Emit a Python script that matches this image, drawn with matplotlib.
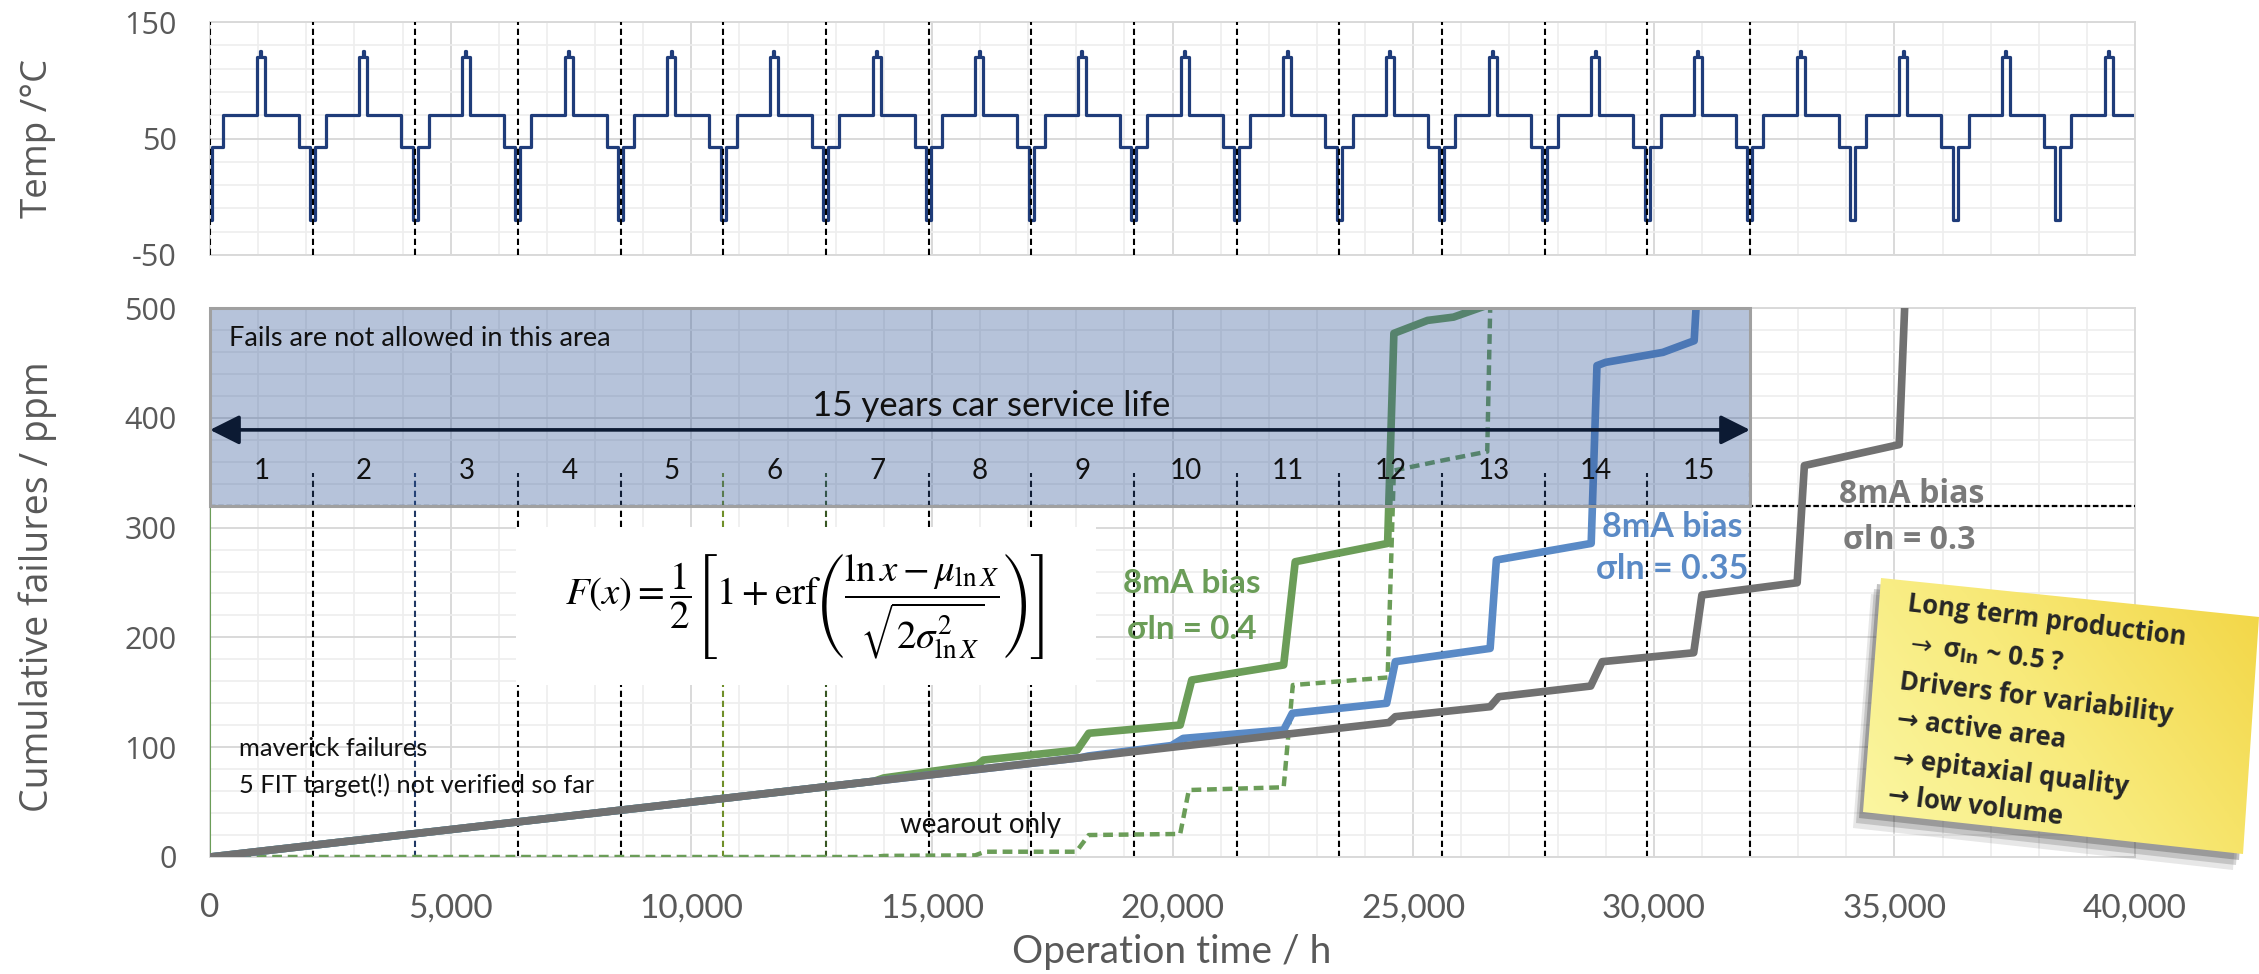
import numpy as np
import matplotlib
matplotlib.use("Agg")
import matplotlib.pyplot as plt
from matplotlib.patches import Rectangle, Polygon
from matplotlib.ticker import MultipleLocator, FixedLocator, FuncFormatter
from matplotlib.colors import LinearSegmentedColormap

plt.rcParams["axes.unicode_minus"] = False

# ---------------- data ----------------
HOURS_PER_YEAR = 32000 / 15          # 15 years car service life = 32,000 h
SERVICE_YEARS = 15
year_labels = [str(i) for i in range(1, SERVICE_YEARS + 1)]

# yearly temperature mission profile: phase start inside one year [h] and temperature [°C]
profile_start_h = [0, 50, 280, 970, 1040, 1060, 1135, 1845, 2080]
profile_temp_c = [-20, 43, 70, 120, 125, 120, 70, 43, -20]
n_temp_cycles = 19

# cumulative failures: time [h] / failures [ppm]
gray_t = [0, 24500, 24630, 26600, 26780, 28690, 28930, 30830, 31000, 32980, 33130, 35100, 35250]
gray_f = [0, 122.5, 127.8, 136.9, 146.0, 155.7, 177.9, 186.0, 238.6, 249.8, 356.5, 375.6, 540]

blue_t = [0, 18100, 18250, 19980, 20220, 22310, 22490, 24450, 24630, 26600, 26730,
          28700, 28820, 29000, 30190, 30840, 30930]
blue_f = [0, 90.5, 92.0, 101.5, 108.0, 115.7, 130.9, 140.0, 177.9, 190.0, 270.5,
          285.6, 447.5, 450.5, 459.6, 470.2, 540]

green_t = [0, 13800, 14000, 15950, 16070, 18020, 18260, 20160, 20400, 22310, 22550,
           24470, 24600, 25300, 25840, 26700]
green_f = [0, 69.0, 72.0, 83.8, 88.3, 97.4, 112.7, 120.2, 161.2, 174.9, 268.9,
           285.6, 476.9, 488.7, 491.7, 505]

wearout_t = [0, 13760, 14000, 15900, 16100, 18000, 18260, 20160, 20340, 22310, 22500,
             24470, 24600, 25660, 26540, 26620]
wearout_f = [0, 0, 1.0, 1.5, 4.8, 4.8, 20.0, 21.0, 61.0, 63.5, 156.6,
             163.5, 352.0, 361.6, 369.2, 540]

limit_ppm = 320
note_lines = ["Long term production", r"$\rightarrow$ σ${}_{\mathbf{ln}}$ ~ 0.5 ?",
              "Drivers for variability", "→ active area", "→ epitaxial quality", "→ low volume"]

# ---------------- style ----------------
W, H = 2259, 974
GREEN = "#6b9d58"
BLUE = "#5a8ac6"
GRAY = "#717171"
NAVY = "#1f3c7a"
TXT = "#595959"
SEG = ["Open Sans", "DejaVu Sans"]
CAL = ["Lato", "DejaVu Sans"]

fig = plt.figure(figsize=(W / 100, H / 100), dpi=100)
ax_t = fig.add_axes([210 / W, 1 - 255 / H, (2135 - 210) / W, (255 - 22) / H])
ax_b = fig.add_axes([210 / W, 1 - 857 / H, (2135 - 210) / W, (857 - 308) / H])

for ax in (ax_t, ax_b):
    ax.set_xlim(0, 40000)
    ax.xaxis.set_major_locator(MultipleLocator(5000))
    ax.xaxis.set_minor_locator(MultipleLocator(1000))
    ax.grid(which="major", color="#d9d9d9", lw=1.4, zorder=0)
    ax.grid(which="minor", color="#eeeeee", lw=1.2, zorder=0)
    ax.tick_params(which="both", length=0)
    for s in ax.spines.values():
        s.set_color("#d9d9d9")
        s.set_linewidth(1.4)
    ax.set_axisbelow(True)

# ---- top: temperature profile ----
t_temp, T_temp = [], []
for c in range(n_temp_cycles):
    for s, T in zip(profile_start_h, profile_temp_c):
        t_temp.append(c * HOURS_PER_YEAR + s)
        T_temp.append(T)
ax_t.step(t_temp, T_temp, where="post", color=NAVY, lw=2.3, zorder=2)
ax_t.set_ylim(-50, 150)
ax_t.yaxis.set_major_locator(FixedLocator([-50, 50, 150]))
ax_t.yaxis.set_minor_locator(FixedLocator(list(range(-30, 150, 20))))
ax_t.set_xticklabels([])
for k in range(0, SERVICE_YEARS + 1):
    ax_t.plot([k * HOURS_PER_YEAR] * 2, [-50, 150], color="k", lw=1.5,
              ls=(0, (3, 1.8)), zorder=3)

# ---- bottom: cumulative failures ----
ax_b.set_ylim(0, 500)
ax_b.yaxis.set_major_locator(MultipleLocator(100))
ax_b.yaxis.set_minor_locator(MultipleLocator(20))
ax_b.xaxis.set_major_formatter(FuncFormatter(lambda v, p: f"{int(v):,}"))

dash_cols = {2: "#203864", 5: "#708f2a", 6: "#385723"}
for k in range(1, SERVICE_YEARS + 1):
    ax_b.plot([k * HOURS_PER_YEAR] * 2, [0, 350], color=dash_cols.get(k, "k"), lw=1.5,
              ls=(0, (3, 1.8)), zorder=2)
ax_b.plot([0, 40000], [limit_ppm, limit_ppm], color="k", lw=1.6, ls=(0, (2.5, 1.2)), zorder=6)
ax_b.plot([0, 0], [0, limit_ppm], color=GREEN, lw=1.5, zorder=3)

ax_b.plot(wearout_t, wearout_f, color=GREEN, lw=3.2, ls=(0, (2.2, 1.3)), zorder=3)
ax_b.plot(green_t, green_f, color=GREEN, lw=5.5, zorder=4, solid_joinstyle="round")
ax_b.plot(blue_t, blue_f, color=BLUE, lw=5.5, zorder=5, solid_joinstyle="round")
ax_b.plot(gray_t, gray_f, color=GRAY, lw=5.5, zorder=6, solid_joinstyle="round")

# forbidden area
ax_b.add_patch(Rectangle((0, limit_ppm), SERVICE_YEARS * HOURS_PER_YEAR, 500 - limit_ppm,
                         facecolor="#2f5597", alpha=0.35, edgecolor="none", zorder=7))
ax_b.add_patch(Rectangle((0, limit_ppm), SERVICE_YEARS * HOURS_PER_YEAR, 500 - limit_ppm,
                         facecolor="none", edgecolor="#a0a0a0", lw=2.2, zorder=7.5, clip_on=False))
ax_b.text(390, 472.5, "Fails are not allowed in this area", fontsize=19.5, family=CAL,
          color="#111111", ha="left", va="center", zorder=9)
ax_b.annotate("", xy=(SERVICE_YEARS * HOURS_PER_YEAR, 389), xytext=(0, 389),
              arrowprops=dict(arrowstyle="<|-|>,head_length=0.6,head_width=0.3",
                              color="#0c1a33", lw=2.6, mutation_scale=30,
                              shrinkA=0, shrinkB=0), zorder=9)
ax_b.text(16240, 411, "15 years car service life", fontsize=25, family=CAL,
          color="#111111", ha="center", va="center", zorder=9)
for i, lab in enumerate(year_labels):
    ax_b.text((i + 0.5) * HOURS_PER_YEAR, 352, lab, fontsize=20, family=CAL,
              color="#111111", ha="center", va="center", zorder=9)

# formula panel
ax_b.add_patch(Rectangle((6360, 156.6), 12060, 143.9, facecolor="white",
                         edgecolor="none", zorder=8))
ax_b.text(12360, 229,
          r"$F(x)=\dfrac{1}{2}\left[1+\mathrm{erf}\left(\dfrac{\ln x-\mu_{\ln X}}{\sqrt{2\sigma^2_{\ln X}}}\right)\right]$",
          fontsize=28, math_fontfamily="stix", ha="center", va="center", zorder=9)

# annotations
ax_b.text(600, 99, "maverick failures", fontsize=18.3, family=CAL, color="#111111",
          ha="left", va="center", zorder=9)
ax_b.text(600, 65.6, "5 FIT target(!) not verified so far", fontsize=18.3, family=CAL,
          color="#111111", ha="left", va="center", zorder=9)
ax_b.text(16020, 29, "wearout only", fontsize=20, family=CAL, color="#111111",
          ha="center", va="center", zorder=9)

ax_b.text(20400, 249.5, "8mA bias", fontsize=24, family=CAL, fontweight="bold",
          color=GREEN, ha="center", va="center", zorder=9)
ax_b.text(20400, 206.8, "σln = 0.4", fontsize=24, family=CAL, fontweight="bold",
          color=GREEN, ha="center", va="center", zorder=9)
ax_b.text(30390, 301, "8mA bias", fontsize=24.5, family=CAL, fontweight="bold",
          color=BLUE, ha="center", va="center", zorder=9)
ax_b.text(30390, 262, "σln = 0.35", fontsize=24.5, family=CAL, fontweight="bold",
          color=BLUE, ha="center", va="center", zorder=9)
ax_b.text(35370, 330.6, "8mA bias", fontsize=23, family=SEG, fontweight="bold",
          color="#7a7a7a", ha="center", va="center", zorder=9)
ax_b.text(35300, 288.7, "σln = 0.3", fontsize=23, family=SEG, fontweight="bold",
          color="#7a7a7a", ha="center", va="center", zorder=9)

# tick labels
for ax in (ax_t, ax_b):
    for lab in ax.get_yticklabels():
        lab.set_fontfamily(SEG)
        lab.set_fontsize(22)
        lab.set_color(TXT)
    ax.tick_params(axis="y", pad=24)
for lab in ax_b.get_xticklabels():
    lab.set_fontfamily(CAL)
    lab.set_fontsize(24)
    lab.set_color(TXT)
ax_b.tick_params(axis="x", pad=26)

# ---- overlay: axis titles and sticky note (pixel coordinates) ----
ax_o = fig.add_axes([0, 0, 1, 1], zorder=20)
ax_o.patch.set_alpha(0)
ax_o.axis("off")

ax_o.text(38, 138, "Temp /°C", rotation=90, fontsize=26.5, family=SEG, color=TXT,
          ha="center", va="center")
ax_o.text(38, 587, "Cumulative failures / ppm", rotation=90, fontsize=27, family=SEG,
          color=TXT, ha="center", va="center")
ax_o.text(1172, 952, "Operation time / h", fontsize=28, family=CAL, color=TXT,
          ha="center", va="center")

note_xy = [(1881, 578), (2259, 617), (2243, 854), (1863, 812)]
for dx, dy, a in [(-10, 16, 0.12), (-7, 11, 0.2), (-4, 6, 0.3)]:
    ax_o.add_patch(Polygon([(x + dx, y + dy) for x, y in note_xy], closed=True,
                           facecolor="#3a3a3a", edgecolor="none", alpha=a, zorder=21))
poly = Polygon(note_xy, closed=True, facecolor="none", edgecolor="none", zorder=22)
ax_o.add_patch(poly)
gx, gy = np.meshgrid(np.linspace(0, 1, 220), np.linspace(0, 1, 160))
grad = 0.65 * gx + 0.35 * (1 - gy)
cmap = LinearSegmentedColormap.from_list("note", ["#fbf8a8", "#f8ea7a", "#f2d543"])
im = ax_o.imshow(grad, extent=(1855, 2259, 870, 570), origin="upper", cmap=cmap,
                 aspect="auto", interpolation="bilinear", zorder=22)
im.set_clip_path(poly)

note_pos = [(1908, 604), (1905, 644), (1900, 682), (1897, 720), (1893, 759), (1888, 796)]
for (x, y), line in zip(note_pos, note_lines):
    ax_o.text(x, y, line, fontsize=18.5, family=SEG, fontweight="bold", color="#262626",
              rotation=-7, rotation_mode="anchor", ha="left", va="center",
              math_fontfamily="dejavusans", zorder=23)

ax_o.set_xlim(0, W)
ax_o.set_ylim(H, 0)

fig.savefig("out.png", dpi=100)
